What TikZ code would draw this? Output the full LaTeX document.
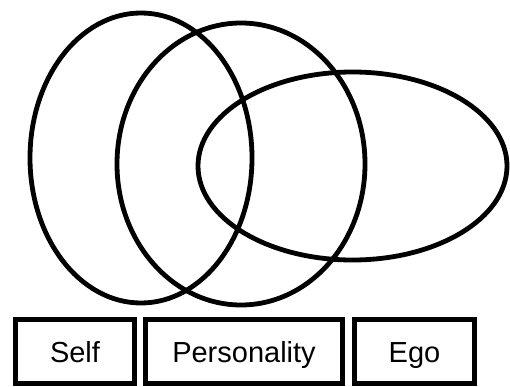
\documentclass[tikz,border=0pt]{standalone}
\usepackage{fontspec}
\setmainfont{Liberation Sans}
\begin{document}
\begin{tikzpicture}[x=1pt,y=-1pt,
  ring/.style={line width=4.8pt},
  labelbox/.style={draw,line width=5.5pt,inner sep=0pt,text height=21pt,text depth=0pt,font=\fontsize{29}{30}\selectfont}]
\useasboundingbox (0,0) rectangle (510,387);
\draw[ring] (141,158) ellipse [x radius=111, y radius=145];
\draw[ring] (241,164) ellipse [x radius=124, y radius=141];
\draw[ring] (352.5,166) ellipse [x radius=154.5, y radius=94];
\node[labelbox,minimum width=119pt,minimum height=64pt] (self) at (75,351.5) {Self};
\node[labelbox,minimum width=197pt,minimum height=64pt] (pers) at (244,351.5) {Personality};
\node[labelbox,minimum width=120pt,minimum height=64pt] (ego) at (414.5,351.5) {Ego};
\end{tikzpicture}
\end{document}
